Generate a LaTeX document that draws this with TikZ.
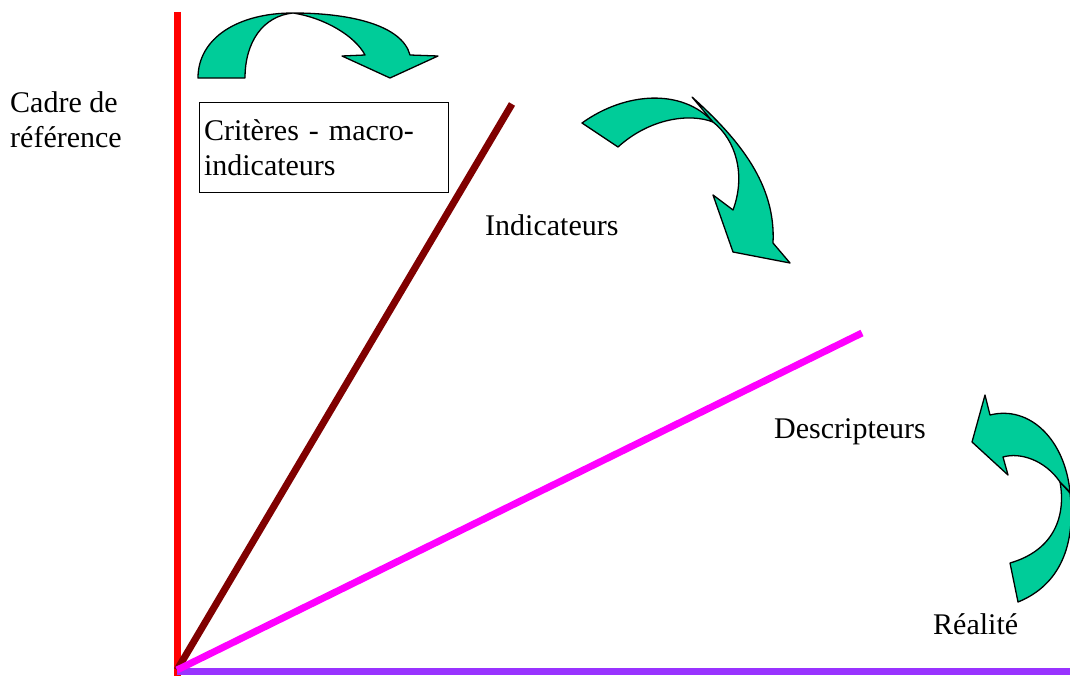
\documentclass[tikz,border=0pt]{standalone}
\usepackage{fontspec}
\setmainfont{Liberation Serif}
\usepackage{xcolor}
\usepackage{tikz}
\usetikzlibrary{positioning}

\definecolor{arrowgreen}{HTML}{00CC99}
\definecolor{axisred}{HTML}{FF0000}
\definecolor{indmaroon}{HTML}{800000}
\definecolor{descmagenta}{HTML}{FF00FF}
\definecolor{realviolet}{HTML}{9933FF}

\begin{document}
\begin{tikzpicture}[
  x=1pt, y=-1pt,
  axis/.style  = {line width=7pt},
  lbl/.style   = {inner sep=0pt, font=\fontsize{30}{35}\selectfont, align=left},
  critbox/.style = {draw, line width=1pt, inner xsep=4pt, inner ysep=0pt,
                 minimum width=249pt, minimum height=90pt, text width=240pt,
                 align=left, font=\fontsize{30}{35}\selectfont},
  curvarrow/.style = {fill=arrowgreen, draw=black, line width=1.3pt, line join=round},
]
\useasboundingbox (0,0) rectangle (1070,677);

% ── Axes ──────────────────────────────────────────────────────────────────────
\coordinate (orig)    at (177,670);
\coordinate (refTop)  at (177,12);
\coordinate (indEnd)  at (512,104);
\coordinate (descEnd) at (862,333);
\coordinate (realEnd) at (1070,671);

\draw[axis, axisred]     (refTop) -- (177,676);
\draw[axis, indmaroon]   (orig) -- (indEnd);
\draw[axis, realviolet]  (177,671) -- (realEnd);
\draw[axis, descmagenta] (orig) -- (descEnd);

% ── Labels ────────────────────────────────────────────────────────────────────
\node[lbl, anchor=north west] (cadre) at (10,91) {Cadre de\\référence};
\node[critbox, anchor=north west] (crit) at (199,102) {Critères - macro-\\indicateurs};
\node[lbl, anchor=base west] (ind)  at (485,235) {Indicateurs};
\node[lbl, anchor=base west] (desc) at (774,438) {Descripteurs};
\node[lbl, anchor=base west] (real) at (933,634) {Réalité};

% ── Curved arrows ─────────────────────────────────────────────────────────────
\draw[curvarrow] (198,78) .. controls (198,38) and (238,13) .. (293,13)
            .. controls (350,13) and (402,25) .. (410,55) -- (438,56) -- (390,78)
            -- (342,56) -- (365,55) .. controls (355,36) and (325,18) .. (293,13)
            .. controls (263,16) and (245,42) .. (245,78) -- cycle;

\draw[curvarrow] (582,123) .. controls (625,92) and (682,88) .. (713,122)
            .. controls (690,113) and (650,118) .. (618,147) -- cycle;
\draw[curvarrow] (692,97) .. controls (740,140) and (776,185) .. (773,243) -- (790,263)
            -- (733,252) -- (713,195) -- (733,210)
            .. controls (746,175) and (736,140) .. (713,122) -- cycle;

\draw[curvarrow] (1060,482) .. controls (1066,515) and (1055,550) .. (1010,563)
            -- (1018,602) .. controls (1060,585) and (1076,545) .. (1070,493) -- cycle;
\draw[curvarrow] (985,395) -- (990,415) .. controls (1030,405) and (1065,440) .. (1070,492)
            -- (1060,482) .. controls (1045,460) and (1020,452) .. (1003,457)
            -- (1008,475) -- (972,442) -- cycle;

\end{tikzpicture}
\end{document}
